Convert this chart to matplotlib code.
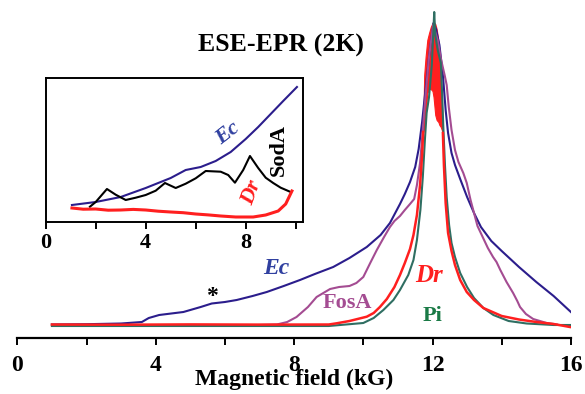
import matplotlib.pyplot as plt
from matplotlib.ticker import MultipleLocator

plt.rcParams['font.family'] = ['Liberation Serif', 'DejaVu Serif']
plt.rcParams['font.weight'] = 'bold'

# main spectra: field (kG), echo intensity (arb. units)
ec_x = [1.0, 2.0, 3.0, 3.6, 3.8, 4.1, 4.8, 5.3, 5.62, 6.0, 6.34, 6.8, 7.21, 7.7, 8.17, 8.6,
        9.13, 9.6, 10.1, 10.5, 10.77, 11.06, 11.2, 11.35, 11.5, 11.6, 11.7, 11.8, 11.9,
        12.0, 12.03, 12.1, 12.2, 12.3, 12.38, 12.45, 12.55, 12.65, 12.8, 13.0, 13.2, 13.4,
        13.7, 14.0, 14.5, 15.0, 15.5, 16.0]
ec_y = [0.5, 0.8, 1.5, 3, 7, 10, 13, 18, 21.5, 23, 25, 29, 33, 39, 45, 51,
        58, 67, 78, 90, 102, 121, 131, 143, 158, 176, 203, 236, 268,
        295, 302, 296, 280, 250, 215, 192, 172, 160, 146, 128, 112, 98,
        84, 74, 58, 43, 29, 13]

fos_x = [7.0, 7.5, 7.8, 8.07, 8.4, 8.65, 9.04, 9.3, 9.6, 9.8, 10.0, 10.2, 10.39, 10.6,
         10.77, 10.9, 11.06, 11.2, 11.35, 11.47, 11.55, 11.64, 11.72, 11.8, 11.9, 12.02,
         12.15, 12.25, 12.35, 12.41, 12.47, 12.55, 12.65, 12.75, 12.89, 12.99, 13.1, 13.2,
         13.3, 13.45, 13.6, 13.75, 13.85, 13.96, 14.14, 14.33, 14.45, 14.53, 14.7, 14.91,
         15.3, 15.6]
fos_y = [0, 0.5, 3, 8, 18, 28, 36, 38, 39, 42, 48, 62, 75, 88,
         98, 104, 109, 115, 121, 126, 140, 162, 195, 230, 268, 300,
         285, 265, 250, 240, 218, 195, 175, 163, 152, 142, 125, 112,
         99, 88, 77, 68, 63, 55, 43, 32, 24, 18, 11, 6,
         2, 0.5]

pi_x = [1.0, 9.0, 10.0, 10.3, 10.58, 10.87, 11.06, 11.3, 11.45, 11.55, 11.65, 11.72, 11.78,
        11.83, 11.9, 11.98, 12.02, 12.05, 12.08, 12.15, 12.24, 12.28, 12.31, 12.36, 12.41,
        12.48, 12.55, 12.65, 12.8, 13.0, 13.2, 13.47, 13.76, 14.2, 14.72, 15.5, 16.0]
pi_y = [-1, -1, 2, 7, 15, 25, 35, 50, 65, 85, 115, 148, 185,
        212, 228, 260, 290, 313, 290, 275, 262, 230, 200, 160, 128,
        100, 82, 68, 52, 38, 27, 17, 10, 4, 1.5, 0, 0]

# Dr: left and right flanks, peak drawn as a noisy band
dr_left_x = [1.0, 3.0, 5.0, 7.0, 9.0, 9.23, 9.6, 10.1, 10.3, 10.48, 10.68, 10.9, 11.06,
             11.2, 11.35, 11.45, 11.55, 11.64, 11.7, 11.73]
dr_left_y = [0.5, 0.3, 0.6, 0.4, 0.5, 1.7, 4, 8.3, 12, 18, 26, 38, 50,
             62, 76, 90, 110, 140, 170, 193]
dr_right_x = [12.3, 12.33, 12.38, 12.45, 12.55, 12.65, 12.8, 12.99, 13.2, 13.47, 14.0,
              14.5, 15.0, 15.5, 15.97]
dr_right_y = [192, 160, 122, 92, 74, 60, 45, 33, 25, 17, 9,
              5.5, 3, 1, -2]
band_x = [11.73, 11.76, 11.8, 11.85, 11.9, 11.95, 12.0, 12.03, 12.08, 12.12, 12.17, 12.2,
          12.24, 12.27, 12.3]
band_top = [193, 250, 268, 285, 292, 298, 302, 303, 301, 296, 284, 275, 250, 222, 192]
band_bot = [193, 198, 212, 232, 236, 236, 234, 228, 210, 205, 203, 200, 198, 195, 192]

# inset (low-field region)
ins_ec_x = [1.05, 2.0, 3.0, 4.0, 5.0, 5.6, 6.2, 6.8, 7.4, 8.0, 8.5, 9.0, 9.5, 10.05]
ins_ec_y = [16.7, 19.7, 24.7, 33.7, 43.7, 51.7, 54.7, 60.7, 69.7, 82.7, 94.7, 107.7, 120.7, 134.7]

ins_sod_x = [1.77, 2.0, 2.45, 2.8, 3.2, 3.6, 4.0, 4.4, 4.77, 5.2, 5.6, 6.0, 6.4, 7.0,
             7.3, 7.57, 7.9, 8.17, 8.5, 8.8, 9.1, 9.4, 9.77]
ins_sod_y = [15, 19.7, 32.7, 27, 21.7, 24, 26.7, 31, 38.7, 33.7, 38, 43.4, 50.7, 50,
             46.7, 39, 51.7, 65.7, 53.7, 44, 38.7, 34, 30]

ins_dr_x = [1.05, 1.5, 2.0, 2.5, 3.0, 3.5, 4.0, 4.5, 5.0, 5.5, 6.0, 6.5, 7.0, 7.6,
            8.3, 8.8, 9.3, 9.6, 9.85]
ins_dr_y = [13.7, 12.5, 12.7, 11.5, 11.7, 12.3, 11.7, 10.5, 9.7, 9.0, 7.7, 6.8, 5.7, 4.7,
            4.7, 6.7, 10.7, 17.7, 30.7]

main_ticks = [0, 4, 8, 12, 16]
inset_ticks = [0, 4, 8]

navy = '#2b1d8c'
red = '#ff1f1f'
purple = '#a44c92'
green = '#2f6e62'

fig = plt.figure(figsize=(5.85, 3.94), dpi=100)
ax = fig.add_axes([17.3 / 585, 56 / 394, 553.6 / 585, 338 / 394])

ax.plot(ec_x, ec_y, color=navy, lw=1.5)
ax.plot(fos_x, fos_y, color=purple, lw=1.5)
ax.plot(pi_x, pi_y, color=green, lw=1.5)
ax.plot(dr_left_x, dr_left_y, color=red, lw=1.8)
ax.plot(dr_right_x, dr_right_y, color=red, lw=1.8)
ax.fill_between(band_x, band_bot, band_top, color=red, lw=0.8, edgecolor=red)

ax.set_xlim(0, 16)
ax.set_ylim(-13, 325)
for s in ['left', 'right', 'top']:
    ax.spines[s].set_visible(False)
ax.spines['bottom'].set_linewidth(1.6)
ax.set_yticks([])
ax.set_xticks(main_ticks)
ax.xaxis.set_minor_locator(MultipleLocator(2))
ax.tick_params(axis='x', which='both', direction='out', length=5, width=1.4, labelsize=17, pad=7)
ax.set_xlabel('Magnetic field (kG)', fontsize=17, fontweight='bold', labelpad=-5)

ax.text(7.62, 280, 'ESE-EPR (2K)', fontsize=18.5, ha='center', va='center')
ax.text(7.48, 57, 'Ec', fontsize=17, style='italic', color='#3040a0', ha='center', va='center')
ax.text(5.62, 28, '*', fontsize=17, color='black', ha='center', va='center')
ax.text(9.54, 22, 'FosA', fontsize=16, color=purple, ha='center', va='center')
ax.text(11.9, 49, 'Dr', fontsize=18, style='italic', color=red, ha='center', va='center')
ax.text(11.99, 9, 'Pi', fontsize=16, color='#1a7a46', ha='center', va='center')

# inset
axi = fig.add_axes([45.7 / 585, (394 - 221.7) / 394, 257 / 585, 143.7 / 394])
axi.plot(ins_ec_x, ins_ec_y, color=navy, lw=1.5)
axi.plot(ins_sod_x, ins_sod_y, color='black', lw=1.5)
axi.plot(ins_dr_x, ins_dr_y, color=red, lw=2.2)
axi.set_xlim(0, 10.28)
axi.set_ylim(0, 143.7)
axi.set_yticks([])
axi.set_xticks(inset_ticks)
axi.xaxis.set_minor_locator(MultipleLocator(2))
axi.tick_params(axis='x', which='both', direction='out', length=5, width=1.4, labelsize=16, pad=3)
for s in axi.spines.values():
    s.set_linewidth(1.4)

axi.text(7.3, 88.4, 'Ec', fontsize=16, style='italic', color='#3040a0', rotation=38,
         ha='center', va='center')
axi.text(9.33, 71.7, 'SodA', fontsize=16, color='black', rotation=90, ha='center', va='center')
axi.text(8.25, 28.7, 'Dr', fontsize=16, style='italic', color=red, rotation=70,
         ha='center', va='center')

fig.savefig('out.png', dpi=100)
